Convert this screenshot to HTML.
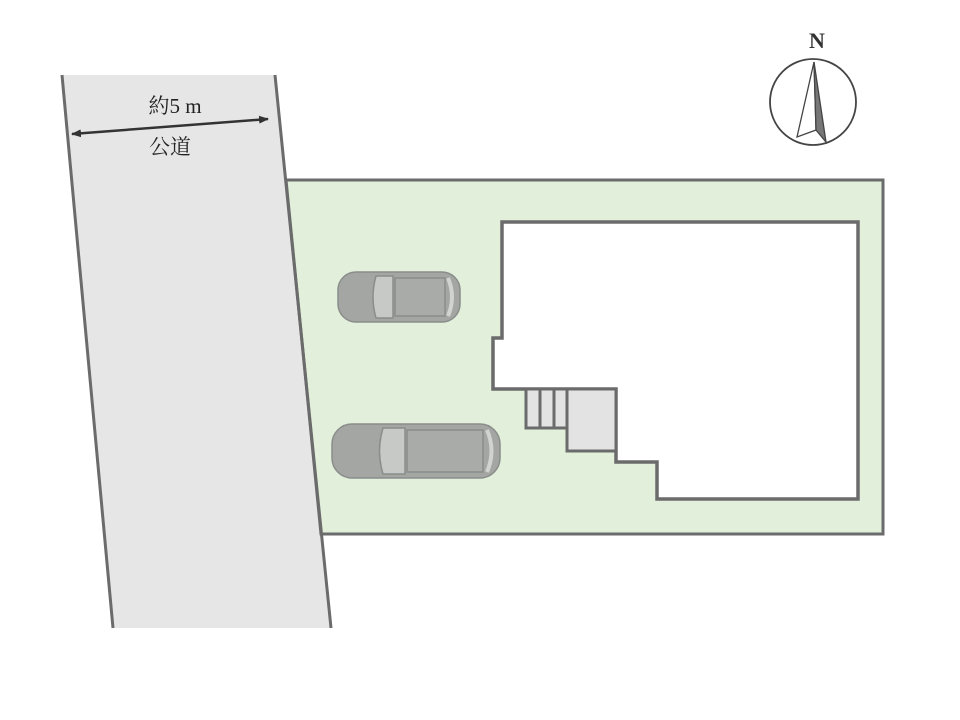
<!DOCTYPE html>
<html><head><meta charset="utf-8"><style>
html,body{margin:0;padding:0;background:#fff;width:960px;height:720px;overflow:hidden}
</style></head><body>
<svg width="960" height="720" viewBox="0 0 960 720" xmlns="http://www.w3.org/2000/svg">
<defs>
<marker id="ah" markerWidth="10" markerHeight="8" refX="9" refY="4" orient="auto" markerUnits="userSpaceOnUse"><path d="M0,0 L10,4 L0,8 Z" fill="#333"/></marker>
<marker id="at" markerWidth="10" markerHeight="8" refX="1" refY="4" orient="auto" markerUnits="userSpaceOnUse"><path d="M10,0 L0,4 L10,8 Z" fill="#333"/></marker>
</defs>
<polygon points="62,75 275,75 331,628 113,628" fill="#e6e6e6"/>
<line x1="62" y1="75" x2="113" y2="628" stroke="#6b6b6b" stroke-width="3"/>
<polygon points="286,180 883,180 883,534 321,534" fill="#e2efdb" stroke="#6b6b6b" stroke-width="3"/>
<line x1="275" y1="75" x2="331" y2="628" stroke="#6b6b6b" stroke-width="3"/>
<path d="M502,222 L858,222 L858,499 L657,499 L657,462 L616,462 L616,389 L493,389 L493,338 L502,338 Z" fill="#fff" stroke="#6b6b6b" stroke-width="3.5"/>
<rect x="567" y="389" width="49" height="62" fill="#e3e3e3" stroke="#6b6b6b" stroke-width="3"/>
<rect x="526" y="389" width="41" height="39" fill="#e3e3e3" stroke="#6b6b6b" stroke-width="3"/>
<line x1="540" y1="389" x2="540" y2="428" stroke="#6b6b6b" stroke-width="3"/>
<line x1="554" y1="389" x2="554" y2="428" stroke="#6b6b6b" stroke-width="3"/>
<g stroke="#8a8d8a" stroke-width="1.5">
<rect x="338" y="272" width="122" height="50" rx="18" fill="#a3a6a3"/>
<path d="M376,276 L393,276 L393,318 L376,318 Q370,297 376,276 Z" fill="#c6c9c6"/>
<rect x="395" y="278" width="50" height="38" fill="#a8aba8"/>
<path d="M448,278 Q456,297 448,316" fill="none" stroke="#d0d3d0" stroke-width="4"/>
</g>
<g stroke="#8a8d8a" stroke-width="1.5">
<rect x="332" y="424" width="168" height="54" rx="20" fill="#a3a6a3"/>
<path d="M383,428 L405,428 L405,474 L383,474 Q376,451 383,428 Z" fill="#c6c9c6"/>
<rect x="407" y="430" width="76" height="42" fill="#a8aba8"/>
<path d="M487,430 Q496,451 487,472" fill="none" stroke="#d0d3d0" stroke-width="4"/>
</g>
<line x1="72" y1="134" x2="268" y2="119" stroke="#333" stroke-width="2.5" marker-start="url(#at)" marker-end="url(#ah)"/>
<text x="175" y="113" font-family="'Liberation Serif','Noto Serif CJK SC',serif" font-size="21" text-anchor="middle" fill="#222">約5 m</text>
<text x="170" y="154" font-family="'Liberation Serif','Noto Serif CJK SC',serif" font-size="21" text-anchor="middle" fill="#222">公道</text>
<text x="817" y="48" font-family="'Liberation Serif',serif" font-size="22" font-weight="bold" text-anchor="middle" fill="#333">N</text>
<circle cx="813" cy="102" r="43" fill="none" stroke="#444" stroke-width="1.8"/>
<polygon points="814,62 797,137 816,130" fill="#fff" stroke="#444" stroke-width="1.3"/>
<polygon points="814,62 816,130 826,142" fill="#777" stroke="#444" stroke-width="1.3"/>
</svg>
</body></html>
